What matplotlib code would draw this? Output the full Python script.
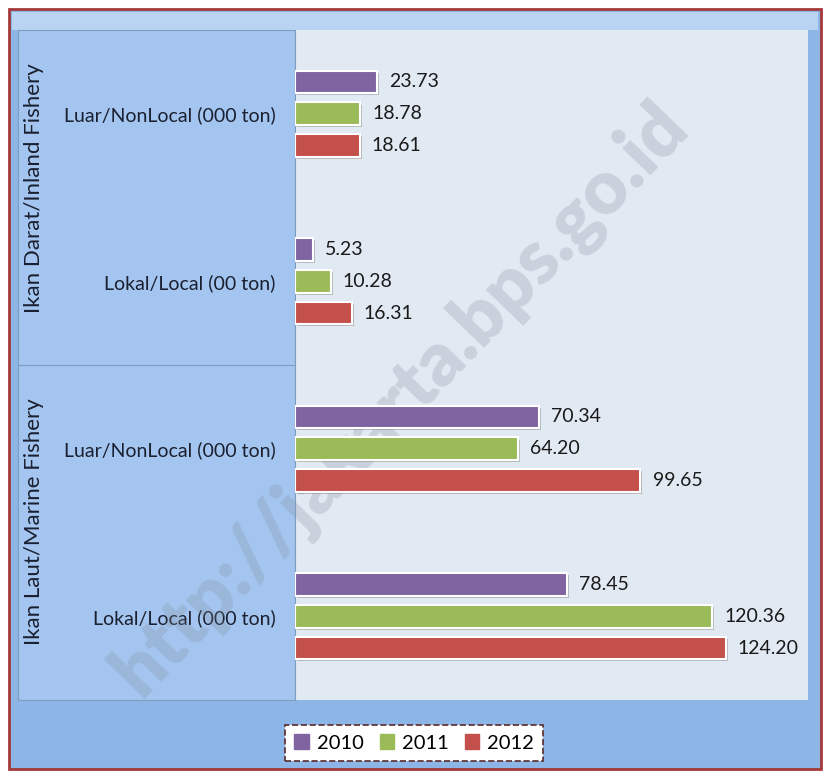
import matplotlib.pyplot as plt
import matplotlib.patches as mpatches
import matplotlib.patheffects as pe
import numpy as np

# data
categories = ["Luar/NonLocal (000 ton)", "Lokal/Local (00 ton)",
              "Luar/NonLocal (000 ton)", "Lokal/Local (000 ton)"]
groups = ["Ikan Darat/Inland Fishery", "Ikan Laut/Marine Fishery"]
years = ["2010", "2011", "2012"]
v2010 = [23.73, 5.23, 70.34, 78.45]
v2011 = [18.78, 10.28, 64.20, 120.36]
v2012 = [18.61, 16.31, 99.65, 124.20]
colors = ["#8064a2", "#9bbb59", "#c4504c"]

plt.rcParams['font.family'] = ['Lato', 'DejaVu Sans']

W, H = 829, 777
fig = plt.figure(figsize=(W / 100, H / 100), dpi=100)


def fx(px):
    return px / W


def fy(py):
    return 1 - py / H


def frect(x0, y0, x1, y1, **kw):
    r = mpatches.Rectangle((fx(x0), fy(y1)), fx(x1) - fx(x0), fy(y0) - fy(y1),
                           transform=fig.transFigure, zorder=-5, **kw)
    fig.patches.append(r)
    return r


# chart background
frect(0, 0, W, H, facecolor="white", edgecolor="none")
frect(9, 9, 821, 769, facecolor="#8db5e6", edgecolor="#a33a3a", linewidth=2)
frect(12, 12, 818, 30, facecolor="#b9d3f2", edgecolor="none")
frect(18, 30, 295, 700, facecolor="#a3c5ef", edgecolor="#7f9dbf", linewidth=0.8)
fig.add_artist(plt.Line2D([fx(18), fx(295)], [fy(365), fy(365)],
                          transform=fig.transFigure, color="#7f9dbf", lw=0.8,
                          zorder=-4))

ax = fig.add_axes([fx(295), fy(700), fx(808) - fx(295), fy(30) - fy(700)])
ax.set_facecolor("#e1e9f2")
ax.set_zorder(1)

n = len(categories)
y = np.arange(n)
step = 0.19
bh = 0.135
series = [v2010, v2011, v2012]
for i, (vals, c, yr) in enumerate(zip(series, colors, years)):
    pos = y + (i - 1) * step
    bars = ax.barh(pos, vals, height=bh, color=c, edgecolor="white",
                   linewidth=1.5, label=yr, zorder=3)
    for b in bars:
        b.set_path_effects([pe.SimplePatchShadow(offset=(1.5, -1.5), alpha=0.25),
                            pe.Normal()])
    for p, v in zip(pos, vals):
        ax.text(v + 3.5, p, f"{v:.2f}", va="center", ha="left",
                fontsize=14, color="#1a1a1a", zorder=4, clip_on=False)

ax.set_xlim(0, 148)
ax.set_ylim(n - 0.5, -0.5)
ax.set_xticks([])
ax.set_yticks(y)
ax.set_yticklabels(categories, fontsize=14, color="#1a2030")
ax.tick_params(axis="y", length=0, pad=14)
for s in ["top", "right", "bottom"]:
    ax.spines[s].set_visible(False)
ax.spines["left"].set_color("#7f9dbf")

# group labels
fig.text(fx(34), fy(188), groups[0], rotation=90, ha="center", va="center",
         fontsize=16, color="#1a2030")
fig.text(fx(34), fy(522), groups[1], rotation=90, ha="center", va="center",
         fontsize=16, color="#1a2030")

# legend
handles = [mpatches.Patch(color=c, label=yr) for c, yr in zip(colors, years)]
leg = fig.legend(handles=handles, loc="center", ncol=3,
                 bbox_to_anchor=(fx(414), fy(743)), fontsize=14.5,
                 frameon=True, fancybox=False, handlelength=0.7,
                 handleheight=0.7, handletextpad=0.4, columnspacing=0.8,
                 borderpad=0.45)
fr = leg.get_frame()
fr.set_facecolor("white")
fr.set_edgecolor("#5a2a2a")
fr.set_linestyle("--")
fr.set_linewidth(1.2)
fr.set_alpha(1)
leg.set_zorder(5)

# watermark, behind the bars
ax.text(fx(400), fy(400), "http://jakarta.bps.go.id", rotation=46,
        transform=fig.transFigure, clip_on=False,
        ha="center", va="center", fontsize=54, fontweight="heavy",
        color="#7f8a99", alpha=0.25, zorder=2)

fig.savefig("out.png", dpi=100)
